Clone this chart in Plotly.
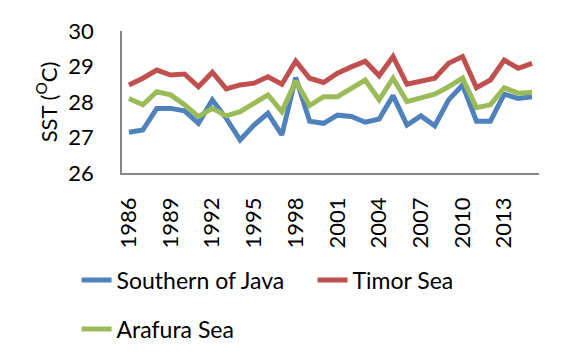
import plotly.graph_objects as go

years = [str(y) for y in range(1986, 2016)]
tick_labels = ["1986", "1989", "1992", "1995", "1998", "2001", "2004", "2007", "2010", "2013"]

southern_java = [27.15, 27.21, 27.82, 27.82, 27.75, 27.40, 28.06, 27.54, 26.93, 27.35,
                 27.68, 27.07, 28.69, 27.46, 27.40, 27.63, 27.59, 27.43, 27.52, 28.18,
                 27.35, 27.61, 27.33, 28.06, 28.48, 27.46, 27.46, 28.22, 28.10, 28.15]
timor_sea = [28.48, 28.67, 28.90, 28.76, 28.79, 28.43, 28.84, 28.37, 28.48, 28.53,
             28.71, 28.50, 29.15, 28.67, 28.55, 28.81, 28.99, 29.15, 28.74, 29.28,
             28.50, 28.59, 28.67, 29.09, 29.28, 28.40, 28.62, 29.18, 28.95, 29.09]
arafura_sea = [28.10, 27.92, 28.29, 28.20, 27.92, 27.59, 27.82, 27.61, 27.73, 27.96,
               28.20, 27.73, 28.59, 27.90, 28.15, 28.15, 28.39, 28.62, 28.06, 28.67,
               28.01, 28.12, 28.22, 28.43, 28.67, 27.84, 27.92, 28.40, 28.25, 28.27]

FONT = "Lato, 'Open Sans', sans-serif"

fig = go.Figure()
fig.add_trace(go.Scatter(x=years, y=southern_java, mode="lines", name="Southern of Java",
                         line=dict(color="#4F81BD", width=5), legend="legend"))
fig.add_trace(go.Scatter(x=years, y=timor_sea, mode="lines", name="Timor Sea",
                         line=dict(color="#C0504D", width=5), legend="legend"))
fig.add_trace(go.Scatter(x=years, y=arafura_sea, mode="lines", name="Arafura Sea",
                         line=dict(color="#9BBB59", width=5), legend="legend2"))

fig.update_layout(
    width=570, height=364,
    margin=dict(l=114, r=39, t=23, b=199, autoexpand=False),
    paper_bgcolor="white", plot_bgcolor="white",
    font=dict(family=FONT, size=21, color="black"),
    showlegend=True,
    legend=dict(orientation="h", x=-0.109, xanchor="left", y=-0.754, yanchor="middle",
                entrywidth=191, font=dict(size=23), bgcolor="rgba(0,0,0,0)"),
    legend2=dict(orientation="h", x=-0.109, xanchor="left", y=-1.099, yanchor="middle",
                 font=dict(size=23), bgcolor="rgba(0,0,0,0)"),
)
fig.update_xaxes(type="category", range=[-0.5, 29.5], tickmode="array",
                 tickvals=tick_labels, ticktext=tick_labels, tickangle=-90,
                 showline=True, linecolor="#868686", linewidth=1.5, showgrid=False,
                 ticks="", ticklabelstandoff=14, zeroline=False, tickfont=dict(size=22))
fig.update_yaxes(range=[26, 30], dtick=1, showline=True, linecolor="#868686", linewidth=1.5,
                 showgrid=False, ticks="", ticklabelstandoff=22, zeroline=False,
                 tickfont=dict(size=22),
                 title=dict(text="SST (<sup>O</sup>C)", standoff=5, font=dict(size=22)))

fig.write_html("out.html")
